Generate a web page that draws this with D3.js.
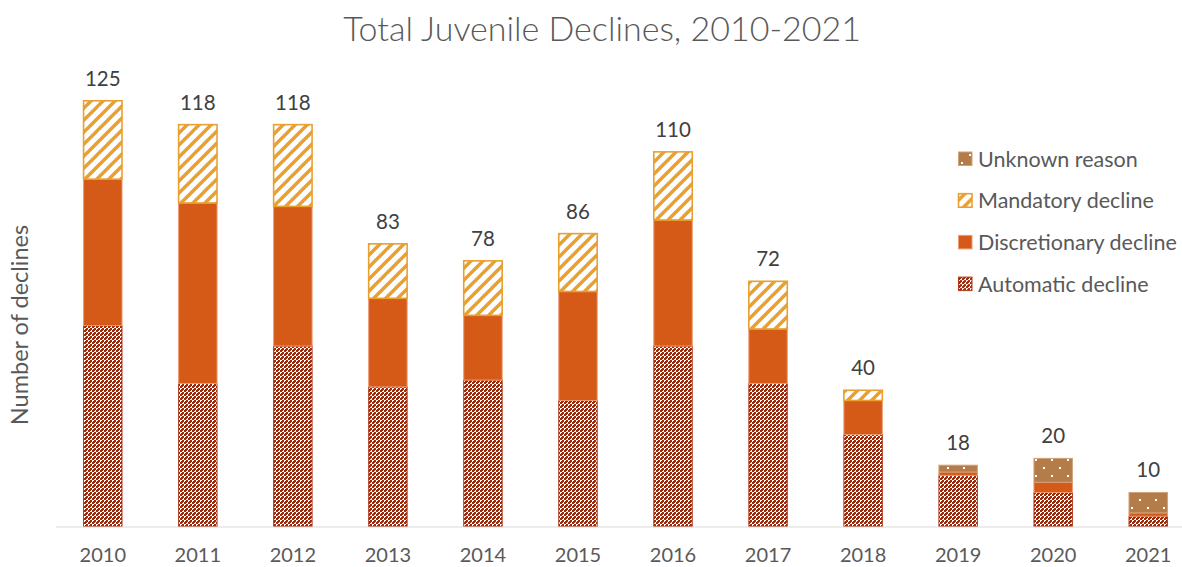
<!DOCTYPE html>
<html>
<head>
<meta charset="utf-8">
<script src="https://cdn.jsdelivr.net/npm/d3@7"></script>
<style>
  html, body { margin: 0; padding: 0; background: #fff; }
  svg { display: block; font-family: Lato, "Open Sans", sans-serif; }
</style>
</head>
<body>
<svg id="chart" width="1182" height="567"></svg>
<script>
// Juvenile declines by year, split by reason
const years = ["2010","2011","2012","2013","2014","2015","2016","2017","2018","2019","2020","2021"];
const automatic     = [59, 42, 53, 41, 43, 37, 53, 42, 27, 15, 10, 3];
const discretionary = [43, 53, 41, 26, 19, 32, 37, 16, 10, 1, 3, 1];
const mandatory     = [23, 23, 24, 16, 16, 17, 20, 14, 3, 0, 0, 0];
const unknown       = [0, 0, 0, 0, 0, 0, 0, 0, 0, 2, 7, 6];

const seriesNames = ["Automatic decline", "Discretionary decline", "Mandatory decline", "Unknown reason"];
const seriesKeys = ["automatic", "discretionary", "mandatory", "unknown"];

const rows = years.map((y, i) => ({
  year: y,
  automatic: automatic[i],
  discretionary: discretionary[i],
  mandatory: mandatory[i],
  unknown: unknown[i]
}));
rows.forEach(r => r.total = seriesKeys.reduce((s, k) => s + r[k], 0));

const svg = d3.select("#chart");
const defs = svg.append("defs");

// Fill patterns
const pAuto = defs.append("pattern").attr("id", "pat-auto")
  .attr("patternUnits", "userSpaceOnUse").attr("width", 4).attr("height", 4);
pAuto.append("rect").attr("width", 4).attr("height", 4).attr("fill", "#9E2A0C");
pAuto.append("rect").attr("x", 0).attr("y", 0).attr("width", 2).attr("height", 2).attr("fill", "#fff");
pAuto.append("rect").attr("x", 2).attr("y", 2).attr("width", 2).attr("height", 2).attr("fill", "#fff");
pAuto.append("rect").attr("x", 1).attr("y", 1).attr("width", 2).attr("height", 2).attr("fill", "#9E2A0C");

const pMand = defs.append("pattern").attr("id", "pat-mand")
  .attr("patternUnits", "userSpaceOnUse").attr("width", 12).attr("height", 12);
pMand.append("rect").attr("width", 12).attr("height", 12).attr("fill", "#fff");
pMand.append("path")
  .attr("d", "M-3,3 L3,-3 M0,12 L12,0 M9,15 L15,9")
  .attr("stroke", "#E9A02E").attr("stroke-width", 3.4);

const pUnk = defs.append("pattern").attr("id", "pat-unk")
  .attr("patternUnits", "userSpaceOnUse").attr("width", 16).attr("height", 16);
pUnk.append("rect").attr("width", 16).attr("height", 16).attr("fill", "#B47C48");
pUnk.append("rect").attr("x", 3).attr("y", 3).attr("width", 2).attr("height", 2).attr("fill", "#fff");
pUnk.append("rect").attr("x", 11).attr("y", 11).attr("width", 2).attr("height", 2).attr("fill", "#fff");

const fills = {
  automatic: "url(#pat-auto)",
  discretionary: "#D55A17",
  mandatory: "url(#pat-mand)",
  unknown: "url(#pat-unk)"
};
const strokes = {
  automatic: "#B0391C",
  discretionary: "#EC9A72",
  mandatory: "#E9A02E",
  unknown: "#CFA27A"
};
const strokeW = { automatic: 1, discretionary: 1, mandatory: 1.6, unknown: 1 };

// Scales
const x = d3.scaleBand().domain(years).range([55.5, 1195.5]).paddingInner(0.585).paddingOuter(0.29);
const y = d3.scaleLinear().domain([0, d3.max(rows, d => d.total)]).range([526.5, 100.8]);

const stack = d3.stack().keys(seriesKeys);
const layers = stack(rows);

const g = svg.append("g");

// Stacked bars
layers.forEach(layer => {
  const key = layer.key;
  g.append("g").selectAll("rect")
    .data(layer.filter(d => d[1] - d[0] > 0))
    .join("rect")
    .attr("x", d => x(d.data.year) + 0.5)
    .attr("width", x.bandwidth() - 1)
    .attr("y", d => y(d[1]))
    .attr("height", d => y(d[0]) - y(d[1]))
    .attr("fill", fills[key])
    .attr("stroke", strokes[key])
    .attr("stroke-width", strokeW[key]);
});

// Category axis
const xAxis = d3.axisBottom(x).tickSize(0).tickPadding(21);
const axG = svg.append("g").attr("transform", "translate(0,527)").call(xAxis);
axG.select(".domain").remove();
axG.selectAll("text")
  .attr("fill", "#595959")
  .style("font-size", "20px")
  .style("font-family", "Lato, 'Open Sans', sans-serif");
svg.append("line")
  .attr("x1", 56).attr("x2", 1182).attr("y1", 527).attr("y2", 527)
  .attr("stroke", "#D9D9D9").attr("stroke-width", 1.2);

// Total labels
g.append("g").selectAll("text")
  .data(rows)
  .join("text")
  .attr("x", d => x(d.year) + x.bandwidth() / 2)
  .attr("y", d => y(d.total) - 15)
  .attr("text-anchor", "middle")
  .attr("fill", "#404040")
  .style("font-size", "20.5px")
  .text(d => d.total);

// Title
svg.append("text")
  .attr("x", 602).attr("y", 41)
  .attr("text-anchor", "middle")
  .attr("fill", "#595959")
  .style("font-size", "34px")
  .style("font-weight", 300)
  .text("Total Juvenile Declines, 2010-2021");

// Y axis title
svg.append("text")
  .attr("transform", "translate(28,325) rotate(-90)")
  .attr("text-anchor", "middle")
  .attr("fill", "#595959")
  .style("font-size", "23.5px")
  .text("Number of declines");

// Legend (top of stack listed first)
const legendKeys = seriesKeys.slice().reverse();
const legend = svg.append("g").selectAll("g")
  .data(legendKeys)
  .join("g")
  .attr("transform", (d, i) => `translate(958,${159 + i * 41.7})`);
legend.append("rect")
  .attr("x", 0.5).attr("y", -7)
  .attr("width", 13.5).attr("height", 13.5)
  .attr("fill", d => fills[d])
  .attr("stroke", d => strokes[d])
  .attr("stroke-width", d => strokeW[d]);
legend.append("text")
  .attr("x", 20).attr("y", 7.5)
  .attr("fill", "#595959")
  .style("font-size", "21.5px")
  .text(d => seriesNames[seriesKeys.indexOf(d)]);
</script>
</body>
</html>
